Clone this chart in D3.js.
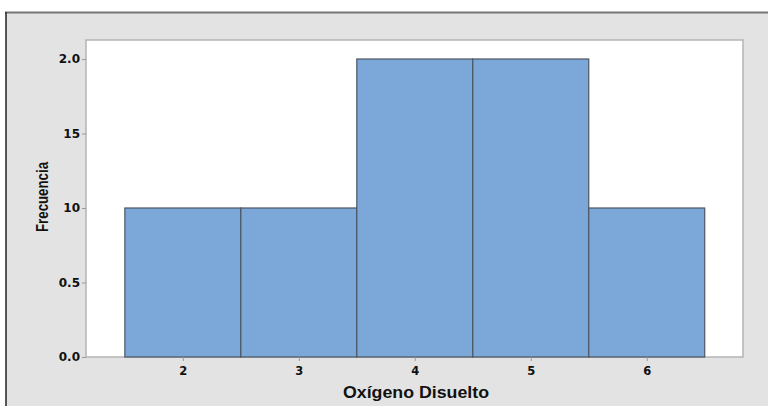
<!DOCTYPE html>
<html><head><meta charset="utf-8">
<script src="https://cdn.jsdelivr.net/npm/d3@7"></script>
<style>body{margin:0;background:#fff}svg{display:block}</style>
</head><body>
<svg id="c" width="768" height="406"></svg>
<script>
const binCenters = [2, 3, 4, 5, 6];
const frequencies = [1, 1, 2, 2, 1];
const xTicks = [2, 3, 4, 5, 6];
const yTicks = [0, 0.5, 1, 1.5, 2];
const yTickLabels = ["0.0", "0.5", "10", "15", "2.0"];
const xTitle = "Oxígeno Disuelto";
const yTitle = "Frecuencia";

const svg = d3.select("#c");
const L = 86, R = 743, T = 40, B = 357;

// panel
svg.append("rect").attr("x", 6).attr("y", 12).attr("width", 762).attr("height", 394).attr("fill", "#e3e3e3");
svg.append("line").attr("x1", 5).attr("x2", 768).attr("y1", 12.5).attr("y2", 12.5).attr("stroke", "#777").attr("stroke-width", 2);
svg.append("line").attr("x1", 6).attr("x2", 6).attr("y1", 12).attr("y2", 406).attr("stroke", "#222").attr("stroke-width", 1.5);

// plot area
svg.append("rect").attr("x", L).attr("y", T).attr("width", R - L).attr("height", B - T)
  .attr("fill", "#fff").attr("stroke", "#b5b5b5").attr("stroke-width", 1.5);

const x = d3.scaleLinear().domain([1.165, 6.83]).range([L, R]);
const y = d3.scaleLinear().domain([0, 2]).range([B, 59]);

svg.append("g").selectAll("rect").data(binCenters).join("rect")
  .attr("x", d => x(d - 0.5)).attr("width", d => x(d + 0.5) - x(d - 0.5))
  .attr("y", (d, i) => y(frequencies[i])).attr("height", (d, i) => y(0) - y(frequencies[i]))
  .attr("fill", "#7ba7d9").attr("stroke", "#4d5563").attr("stroke-width", 1.2);

const xAxis = d3.axisBottom(x).tickValues(xTicks).tickSize(4).tickPadding(6).tickFormat(d3.format("d"));
const gx = svg.append("g").attr("transform", `translate(0,${B})`).call(xAxis);
gx.select(".domain").remove();
gx.selectAll(".tick line").attr("stroke", "#999");
gx.selectAll(".tick text").attr("font-family", "DejaVu Sans").attr("font-weight", "bold").attr("font-size", 11.5).attr("fill", "#111");

const yAxis = d3.axisLeft(y).tickValues(yTicks).tickSize(4).tickPadding(2).tickFormat((d, i) => yTickLabels[i]);
const gy = svg.append("g").attr("transform", `translate(${L},0)`).call(yAxis);
gy.select(".domain").remove();
gy.selectAll(".tick line").attr("stroke", "#999");
gy.selectAll(".tick text").attr("font-family", "DejaVu Sans").attr("font-weight", "bold").attr("font-size", 12).attr("fill", "#111");

svg.append("text").attr("x", 416).attr("y", 398).attr("text-anchor", "middle")
  .attr("font-family", "Liberation Sans, Arial, sans-serif").attr("font-size", 16).attr("font-weight", "bold")
  .attr("textLength", 146).attr("lengthAdjust", "spacingAndGlyphs").attr("fill", "#111").text(xTitle);

svg.append("text").attr("transform", "translate(48,197) rotate(-90)").attr("text-anchor", "middle")
  .attr("font-family", "Liberation Sans, Arial, sans-serif").attr("font-size", 16).attr("font-weight", "bold")
  .attr("textLength", 70).attr("lengthAdjust", "spacingAndGlyphs").attr("fill", "#111").text(yTitle);
</script>
</body></html>
